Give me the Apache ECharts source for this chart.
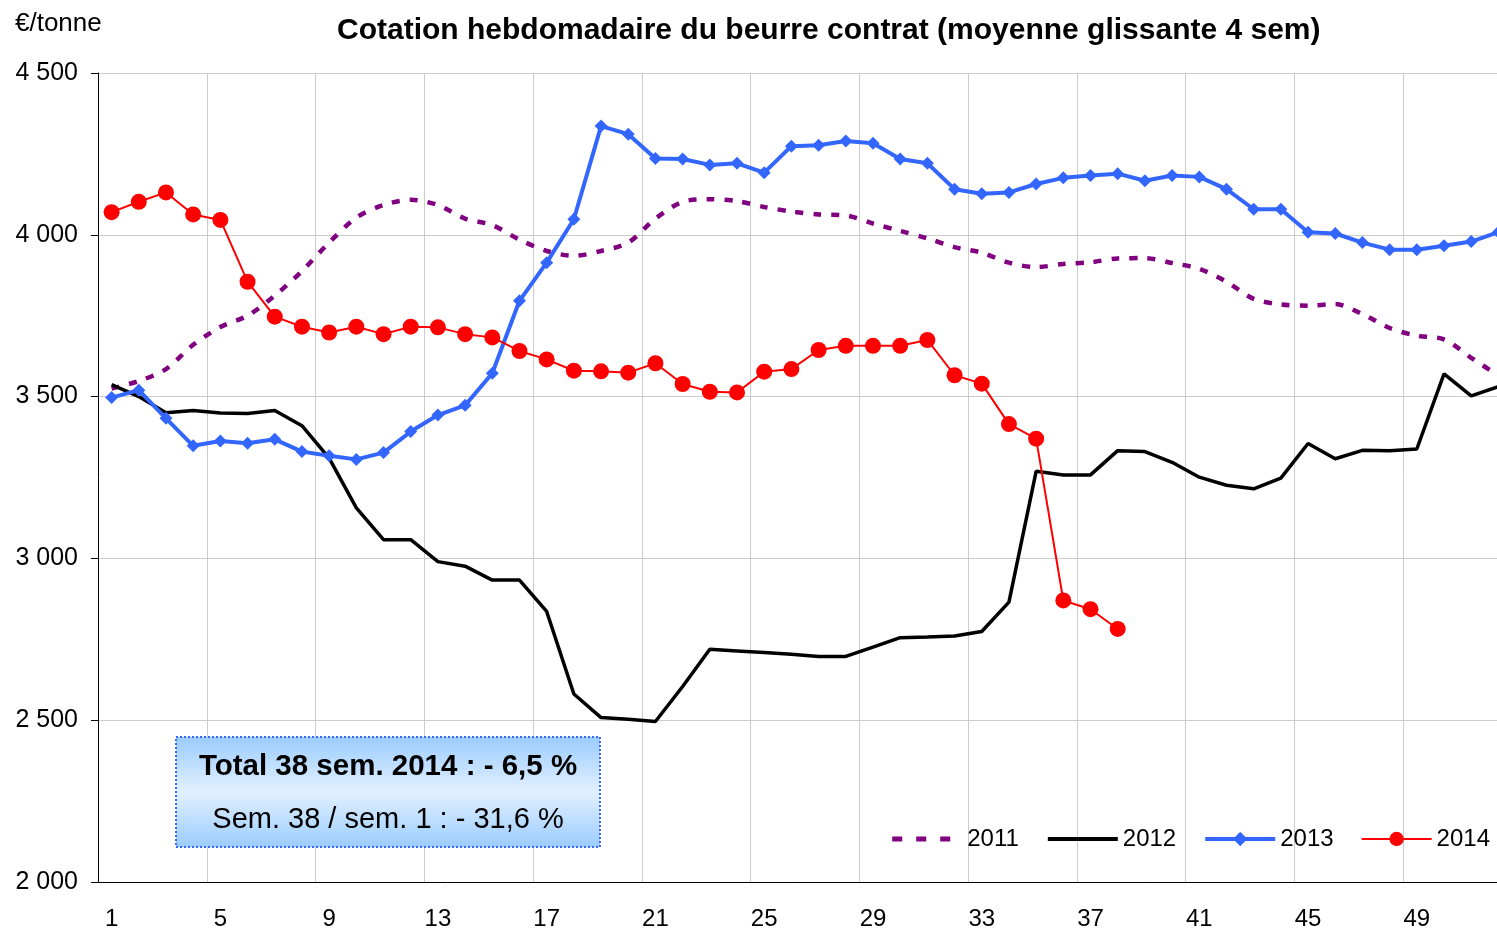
<!DOCTYPE html>
<html>
<head>
<meta charset="utf-8">
<script src="https://cdn.jsdelivr.net/npm/echarts@6/dist/echarts.min.js"></script>
<style>
  html, body { margin: 0; padding: 0; background: #fff; }
  #chart { width: 1497px; height: 931px; }
</style>
</head>
<body>
<div id="chart"></div>
<script>
  // semaines
  var weeks = ['1','2','3','4','5','6','7','8','9','10','11','12','13','14','15','16','17','18','19','20',
    '21','22','23','24','25','26','27','28','29','30','31','32','33','34','35','36','37','38','39','40',
    '41','42','43','44','45','46','47','48','49','50','51','52'];

  var s2011 = [3525, 3548, 3585, 3660, 3715, 3750, 3812, 3888, 3976, 4053, 4092, 4108, 4092, 4050, 4030, 3985,
    3950, 3935, 3950, 3976, 4050, 4102, 4110, 4104, 4086, 4072, 4063, 4060, 4035, 4012, 3989, 3962,
    3945, 3914, 3900, 3910, 3915, 3927, 3928, 3913, 3895, 3855, 3802, 3785, 3781, 3786, 3755, 3712,
    3688, 3677, 3620, 3565];

  var s2012 = [3537, 3500, 3450, 3457, 3449, 3448, 3457, 3410, 3310, 3156, 3058, 3058, 2990, 2976, 2933, 2933,
    2836, 2581, 2508, 2503, 2496, 2604, 2719, 2714, 2709, 2704, 2697, 2697, 2726, 2755, 2757, 2760,
    2774, 2865, 3269, 3258, 3258, 3333, 3330, 3297, 3251, 3226, 3215, 3248, 3355, 3308, 3334, 3333,
    3338, 3570, 3502, 3531];

  var s2013 = [3497, 3520, 3433, 3348, 3363, 3356, 3368, 3330, 3317, 3306, 3327, 3392, 3443, 3473, 3572, 3796,
    3914, 4048, 4336, 4311, 4236, 4234, 4216, 4221, 4192, 4274, 4277, 4290, 4283, 4234, 4221, 4141,
    4127, 4131, 4157, 4176, 4183, 4189, 4167, 4183, 4179, 4141, 4079, 4079, 4008, 4004, 3976, 3954,
    3954, 3966, 3979, 4008];

  var s2014 = [4070, 4102, 4131, 4063, 4046, 3855, 3747, 3716, 3698, 3716, 3693, 3716, 3714, 3693, 3683, 3641,
    3615, 3580, 3578, 3574, 3603, 3539, 3515, 3513, 3577, 3585, 3644, 3657, 3657, 3657, 3675, 3566,
    3540, 3415, 3370, 2870, 2843, 2782];

  var yTicks = { min: 2000, max: 4500, step: 500 };

  var FONT = 'Liberation Sans, Arial, sans-serif';

  var chart = echarts.init(document.getElementById('chart'));

  chart.setOption({
    animation: false,
    backgroundColor: '#fff',
    textStyle: { fontFamily: FONT, color: '#000' },
    title: {
      text: 'Cotation hebdomadaire du beurre contrat (moyenne glissante 4 sem)',
      left: 337,
      top: 16,
      padding: 0,
      textStyle: { fontFamily: FONT, fontSize: 30, fontWeight: 'bold', color: '#000' }
    },
    legend: {
      right: 7,
      top: 827,
      itemWidth: 70,
      itemHeight: 18,
      itemGap: 27,
      padding: 0,
      textStyle: { fontFamily: FONT, fontSize: 24, color: '#000' },
      data: [
        { name: '2011', itemStyle: { opacity: 0 }, lineStyle: { width: 5, type: [10, 14] } },
        { name: '2012', itemStyle: { opacity: 0 }, lineStyle: { width: 4 } },
        { name: '2013', lineStyle: { width: 4 } },
        { name: '2014', lineStyle: { width: 2 } }
      ]
    },
    grid: { left: 98, top: 73, width: 1414, height: 809, outerBoundsMode: 'none', containLabel: false },
    xAxis: {
      type: 'category',
      data: weeks,
      boundaryGap: true,
      axisLine: { lineStyle: { color: '#000', width: 1 } },
      axisTick: { interval: 3, length: 6, lineStyle: { color: '#000' } },
      axisLabel: { interval: 3, margin: 25, fontSize: 24, color: '#000', fontFamily: FONT },
      splitLine: { show: true, interval: 3, lineStyle: { color: '#cccccc', width: 1 } }
    },
    yAxis: {
      type: 'value',
      min: yTicks.min,
      max: yTicks.max,
      interval: yTicks.step,
      axisLine: { show: true, lineStyle: { color: '#000', width: 1 } },
      axisTick: { show: true, length: 7, lineStyle: { color: '#000' } },
      axisLabel: {
        margin: 20, fontSize: 25, color: '#000', fontFamily: FONT,
        formatter: function (v) { return String(v).replace(/\B(?=(\d{3})+(?!\d))/g, ' '); }
      },
      splitLine: { lineStyle: { color: '#cccccc', width: 1 } }
    },
    series: [
      {
        name: '2011',
        type: 'line',
        data: s2011,
        smooth: 0.3,
        symbol: 'none',
        lineStyle: { color: '#800080', width: 4.5, type: [8, 10] },
        itemStyle: { color: '#800080' },
        z: 2
      },
      {
        name: '2012',
        type: 'line',
        data: s2012,
        symbol: 'none',
        lineStyle: { color: '#000000', width: 3.5 },
        itemStyle: { color: '#000000' },
        z: 3
      },
      {
        name: '2013',
        type: 'line',
        data: s2013,
        symbol: 'diamond',
        symbolSize: 13,
        showAllSymbol: true,
        lineStyle: { color: '#3366ff', width: 4 },
        itemStyle: { color: '#3366ff' },
        z: 4
      },
      {
        name: '2014',
        type: 'line',
        data: s2014,
        symbol: 'circle',
        symbolSize: 16,
        showAllSymbol: true,
        lineStyle: { color: '#ff0000', width: 2 },
        itemStyle: { color: '#ff0000' },
        z: 5
      }
    ],
    graphic: [
      {
        type: 'text',
        left: 15,
        top: 11,
        style: { text: '€/tonne', font: '26px ' + FONT, fill: '#000' }
      },
      {
        type: 'rect',
        shape: { x: 176, y: 737, width: 424, height: 110 },
        style: {
          fill: new echarts.graphic.LinearGradient(0, 0, 0, 1, [
            { offset: 0, color: '#99ccff' },
            { offset: 0.5, color: '#e2f0ff' },
            { offset: 1, color: '#99ccff' }
          ]),
          stroke: '#3366ff',
          lineWidth: 2,
          lineDash: [2, 2]
        },
        z: 10
      },
      {
        type: 'text',
        x: 388,
        y: 767,
        style: {
          text: 'Total 38 sem. 2014 : - 6,5 %',
          font: 'bold 29.5px ' + FONT,
          fill: '#000',
          textAlign: 'center',
          textVerticalAlign: 'middle'
        },
        z: 11
      },
      {
        type: 'text',
        x: 388,
        y: 820,
        style: {
          text: 'Sem. 38 / sem. 1 : - 31,6 %',
          font: '29px ' + FONT,
          fill: '#000',
          textAlign: 'center',
          textVerticalAlign: 'middle'
        },
        z: 11
      }
    ]
  });
</script>
</body>
</html>
